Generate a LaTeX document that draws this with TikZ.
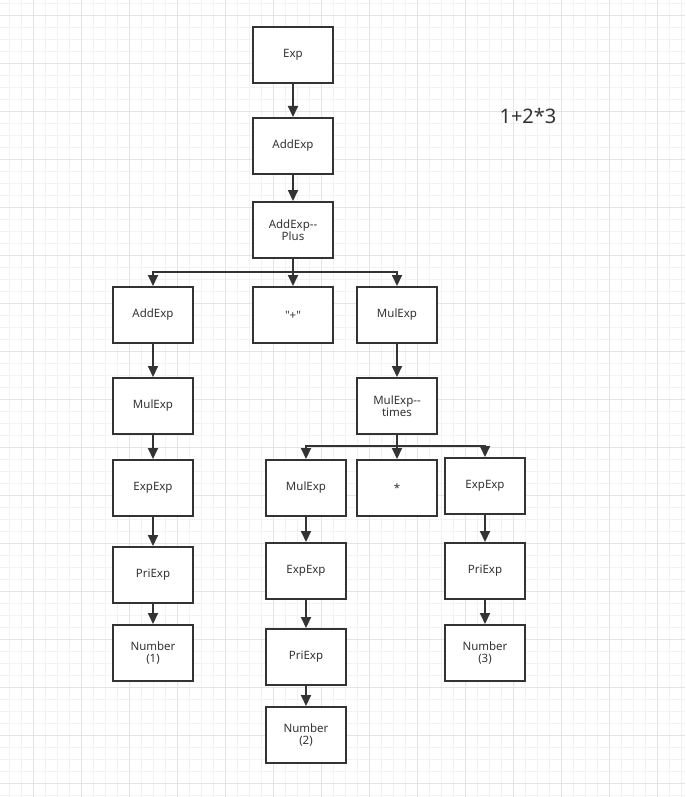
\documentclass[tikz,border=0pt]{standalone}
\usepackage{fontspec}
\setmainfont{Noto Sans}
\usetikzlibrary{arrows.meta}
\definecolor{ink}{HTML}{333333}
\definecolor{gridminor}{HTML}{F2F2F2}
\definecolor{gridmajor}{HTML}{E4E4E4}
\tikzset{
  box/.style={draw=ink, line width=2pt, fill=white, minimum width=80pt, minimum height=56pt,
    inner sep=0pt, align=center, text=ink, font=\fontsize{11.5}{12.5}\selectfont},
  conn/.style={draw=ink, line width=2pt, -{Triangle[width=10pt,length=11pt]}},
  trunk/.style={draw=ink, line width=2pt}
}
\begin{document}
\begin{tikzpicture}[x=1pt,y=-1pt]
\useasboundingbox (0,0) rectangle (685,797);
\fill[white] (0,0) rectangle (685,797);
\foreach \i in {0,...,57} {
  \draw[gridminor, line width=0.8pt] (9+12*\i,0) -- (9+12*\i,797);
}
\foreach \j in {0,...,66} {
  \draw[gridminor, line width=0.8pt] (0,3+12*\j) -- (685,3+12*\j);
}
\foreach \i in {0,...,14} {
  \draw[gridmajor, line width=0.8pt] (33+48*\i,0) -- (33+48*\i,797);
}
\foreach \j in {0,...,16} {
  \draw[gridmajor, line width=0.8pt] (0,15+48*\j) -- (685,15+48*\j);
}

\node[box] (exp) at (293,55) {Exp};
\node[box] (add1) at (293,146) {AddExp};
\node[box] (plus) at (293,230) {AddExp{-}{-}\\Plus};
\node[box] (add2) at (153,315) {AddExp};
\node[box] (plussign) at (293,315) {\textquotedbl+\textquotedbl};
\node[box] (mul1) at (397,315) {MulExp};
\node[box] (mulL) at (153,406) {MulExp};
\node[box] (expL) at (153,488) {ExpExp};
\node[box] (priL) at (153,575) {PriExp};
\node[box] (num1) at (153,653) {Number\\(1)};
\node[box] (times) at (397,406) {MulExp{-}{-}\\times};
\node[box] (mul2) at (306,488) {MulExp};
\node[box] (star) at (397,488) {*};
\node[box] (expR) at (485,486) {ExpExp};
\node[box] (expM) at (306,571) {ExpExp};
\node[box] (priM) at (306,657) {PriExp};
\node[box] (num2) at (306,735) {Number\\(2)};
\node[box] (priR) at (485,571) {PriExp};
\node[box] (num3) at (485,653) {Number\\(3)};

\node[text=ink, font=\fontsize{20}{22}\selectfont] (title) at (528,116) {1+2*3};

\draw[conn] (exp) -- (add1);
\draw[conn] (add1) -- (plus);
\coordinate (b1) at (293,272);
\draw[trunk] (plus.south) -- (b1);
\draw[conn] (b1) -| (add2.north);
\draw[conn] (b1) -- (plussign.north);
\draw[conn] (b1) -| (mul1.north);
\draw[conn] (add2) -- (mulL);
\draw[conn] (mulL) -- (expL);
\draw[conn] (expL) -- (priL);
\draw[conn] (priL) -- (num1);
\draw[conn] (mul1) -- (times);
\coordinate (b2) at (397,446);
\draw[trunk] (times.south) -- (b2);
\draw[conn] (b2) -| (mul2.north);
\draw[conn] (b2) -- (star.north);
\draw[conn] (b2) -| (expR.north);
\draw[conn] (mul2) -- (expM);
\draw[conn] (expM) -- (priM);
\draw[conn] (priM) -- (num2);
\draw[conn] (expR) -- (priR);
\draw[conn] (priR) -- (num3);
\end{tikzpicture}
\end{document}
